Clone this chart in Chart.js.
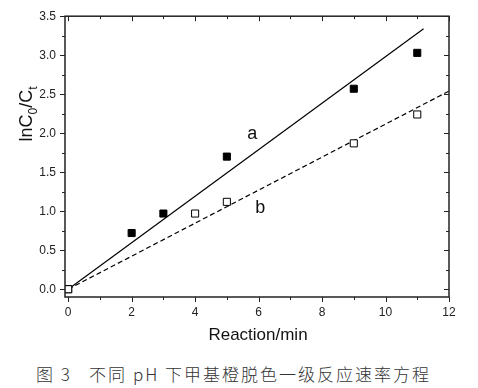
<!DOCTYPE html>
<html>
<head>
<meta charset="utf-8">
<script src="https://cdn.jsdelivr.net/npm/chart.js@4.4.1/dist/chart.umd.min.js"></script>
<style>
  html, body { margin: 0; padding: 0; background: #fff; }
  #wrap { position: relative; width: 478px; height: 388px; }
  #chart { position: absolute; left: 0; top: 0; }
  #caption {
    position: absolute; left: 36px; top: 363px; white-space: pre;
    font-family: "Noto Sans CJK SC", sans-serif; font-size: 17px; color: #333;
    font-weight: 300; letter-spacing: 2px; line-height: 22px;
  }
</style>
</head>
<body>
<div id="wrap">
  <canvas id="chart" width="478" height="352"></canvas>
  <div id="caption">图 3   不同 pH 下甲基橙脱色一级反应速率方程</div>
</div>
<script>
// measured points (time in min, lnC0/Ct)
const timeA = [0, 2, 3, 5, 9, 11];
const valuesA = [0, 0.72, 0.97, 1.70, 2.57, 3.03];
const timeB = [0, 4, 5, 9, 11];
const valuesB = [0, 0.97, 1.12, 1.87, 2.24];

// fitted lines (end points)
const fitAx = [0, 11.2];
const fitAy = [0, 3.34];
const fitBx = [0, 12];
const fitBy = [0, 2.54];

const xTicks = [0, 2, 4, 6, 8, 10, 12];
const yTicks = [0, 0.5, 1.0, 1.5, 2.0, 2.5, 3.0, 3.5];

const toXY = (xs, ys) => xs.map((x, i) => ({ x: x, y: ys[i] }));

const FONT = "'Liberation Sans', Arial, sans-serif";

// frame, ticks, titles and the a / b labels
const framePlugin = {
  id: "frame",
  afterDraw(chart) {
    const { ctx, chartArea: ca, scales } = chart;
    const xs = scales.x, ys = scales.y;
    ctx.save();
    ctx.strokeStyle = "#222";
    ctx.lineWidth = 1.5;
    ctx.strokeRect(ca.left, ca.top, ca.right - ca.left, ca.bottom - ca.top);

    ctx.lineWidth = 1;
    ctx.beginPath();
    for (let v = 0; v <= 12; v += 1) {
      const px = Math.round(xs.getPixelForValue(v)) + 0.5;
      const len = v % 2 === 0 ? 5 : 3;
      ctx.moveTo(px, ca.bottom); ctx.lineTo(px, ca.bottom + len);
      ctx.moveTo(px, ca.top); ctx.lineTo(px, ca.top + len);
    }
    for (let v = 0; v <= 3.5001; v += 0.25) {
      const py = Math.round(ys.getPixelForValue(v)) + 0.5;
      const major = Math.abs(v * 2 - Math.round(v * 2)) < 1e-6;
      const len = major ? 5 : 3;
      ctx.moveTo(ca.left, py); ctx.lineTo(ca.left - len, py);
      ctx.moveTo(ca.right, py); ctx.lineTo(ca.right - len, py);
    }
    ctx.stroke();

    ctx.fillStyle = "#111";
    // x title
    ctx.font = "17px " + FONT;
    ctx.textAlign = "center";
    ctx.textBaseline = "alphabetic";
    ctx.fillText("Reaction/min", (ca.left + ca.right) / 2 + 1, 340);

    // series labels
    ctx.font = "18px " + FONT;
    ctx.fillText("a", xs.getPixelForValue(5.8), ys.getPixelForValue(2.0) + 6);
    ctx.fillText("b", xs.getPixelForValue(6.05), ys.getPixelForValue(1.05) + 6);

    // y title with subscripts, rotated
    ctx.translate(32, 114);
    ctx.rotate(-Math.PI / 2);
    const big = "18px " + FONT, small = "12px " + FONT;
    const parts = [["lnC", big, 0], ["0", small, 5], ["/C", big, 0], ["t", small, 5]];
    let total = 0;
    parts.forEach(p => { ctx.font = p[1]; total += ctx.measureText(p[0]).width; });
    let cx = -total / 2;
    ctx.textAlign = "left";
    parts.forEach(p => {
      ctx.font = p[1];
      ctx.fillText(p[0], cx, p[2]);
      cx += ctx.measureText(p[0]).width;
    });
    ctx.restore();
  }
};

new Chart(document.getElementById("chart"), {
  type: "scatter",
  data: {
    datasets: [
      {
        label: "b",
        data: toXY(timeB, valuesB),
        pointStyle: "rect",
        pointRadius: 5,
        backgroundColor: "#fff",
        borderColor: "#000",
        borderWidth: 1
      },
      {
        label: "a",
        data: toXY(timeA, valuesA),
        pointStyle: "rect",
        pointRadius: 5,
        backgroundColor: "#000",
        borderColor: "#000",
        borderWidth: 1
      },
      {
        label: "a fit",
        data: toXY(fitAx, fitAy),
        showLine: true,
        borderColor: "#000",
        borderWidth: 1.2,
        pointRadius: 0
      },
      {
        label: "b fit",
        data: toXY(fitBx, fitBy),
        showLine: true,
        borderColor: "#000",
        borderWidth: 1.2,
        borderDash: [5, 3],
        pointRadius: 0
      }
    ]
  },
  options: {
    responsive: false,
    animation: false,
    layout: { padding: { top: 11, right: 29, left: 0, bottom: 0 } },
    plugins: { legend: { display: false }, tooltip: { enabled: false } },
    scales: {
      x: {
        type: "linear",
        min: -0.1,
        max: 12,
        grid: { display: false, drawTicks: false },
        border: { display: false },
        afterBuildTicks: s => { s.ticks = xTicks.map(v => ({ value: v })); },
        afterFit: s => { s.height = 55; },
        ticks: {
          padding: 8,
          color: "#222",
          font: { family: FONT, size: 12 },
          callback: v => String(v)
        }
      },
      y: {
        type: "linear",
        min: -0.1,
        max: 3.5,
        grid: { display: false, drawTicks: false },
        border: { display: false },
        afterBuildTicks: s => { s.ticks = yTicks.map(v => ({ value: v })); },
        afterFit: s => { s.width = 65; },
        ticks: {
          padding: 9,
          color: "#222",
          font: { family: FONT, size: 12 },
          callback: v => Number(v).toFixed(1)
        }
      }
    }
  },
  plugins: [framePlugin]
});
</script>
</body>
</html>
